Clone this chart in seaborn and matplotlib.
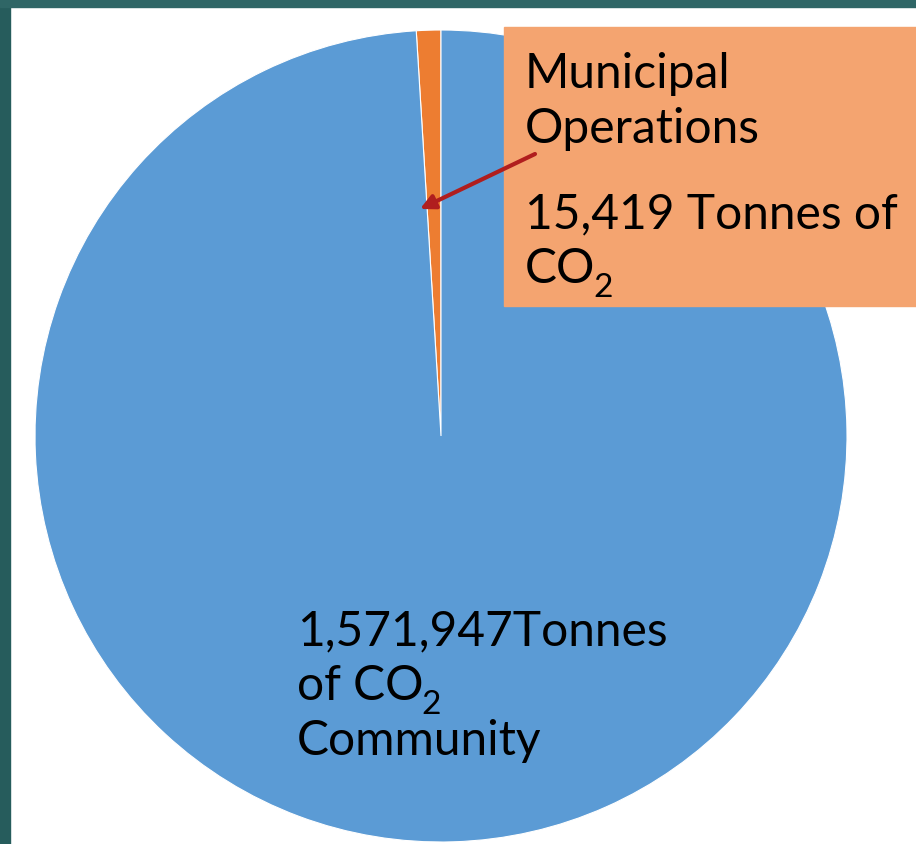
import matplotlib.pyplot as plt
import seaborn as sns
from matplotlib.patches import Rectangle

# data
categorias = ['Municipal Operations', 'Community']
toneladas = [15419, 1571947]
cores = ['#ED7D31', '#5B9BD5']

sns.set_theme(style='white')
plt.rcParams['font.family'] = ['Lato', 'DejaVu Sans']

W, H = 916, 845
fig = plt.figure(figsize=(W / 100, H / 100), dpi=100)
fig.patch.set_facecolor('white')

# moldura verde-azulada do slide
fig.patches.append(Rectangle((0, 0), 10 / W, 1, transform=fig.transFigure,
                             color='#265c5c', zorder=0))
fig.patches.append(Rectangle((0, 1 - 8 / H), 1, 8 / H, transform=fig.transFigure,
                             color='#2f6666', zorder=0))

ax = fig.add_axes([0, 0, 1, 1])
ax.pie(toneladas, colors=cores, startangle=90, counterclock=True,
       center=(441, H - 437), radius=406,
       wedgeprops=dict(edgecolor='white', linewidth=0.8))
ax.set_xlim(0, W)
ax.set_ylim(0, H)
ax.set_aspect('equal')
ax.axis('off')

fs = 34.5
sub = 24


def escrever(x, y, s, co2=False):
    t = ax.text(x, y, s, fontsize=fs, va='baseline', color='black', zorder=4)
    if co2:
        # subscrito do CO2, em coordenadas de dados abaixo da linha de base
        fig.canvas.draw()
        bb = t.get_window_extent().transformed(ax.transData.inverted())
        ax.text(bb.x1 - 2, y - 14, '2', fontsize=sub, va='baseline',
                color='black', zorder=4)
    return t


# caixa do rótulo municipal
ax.add_patch(Rectangle((504, H - 307), W - 504, 279, color='#F4A470', zorder=3))
escrever(525, H - 88, 'Municipal')
escrever(525, H - 143, 'Operations')
escrever(525, H - 228, '15,419 Tonnes of')
escrever(525, H - 283, 'CO', co2=True)

ax.annotate('', xy=(420, H - 210), xytext=(535, H - 155),
            arrowprops=dict(arrowstyle='-|>', color='#B01E1E', lw=3,
                            mutation_scale=22, shrinkA=0, shrinkB=0),
            zorder=5)

escrever(297, H - 645, '1,571,947Tonnes')
escrever(297, H - 700, 'of CO', co2=True)
escrever(297, H - 755, 'Community')

fig.savefig('out.png', dpi=100)
